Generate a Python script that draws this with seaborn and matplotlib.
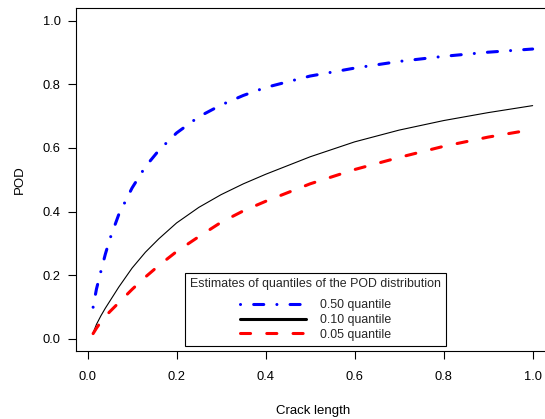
import matplotlib.pyplot as plt
import pandas as pd
import seaborn as sns
from matplotlib.lines import Line2D

sns.set_style("ticks")
plt.rcParams["font.family"] = ["Liberation Sans", "DejaVu Sans"]

# values
crack = [0.0125, 0.02, 0.03, 0.04, 0.05, 0.07, 0.1, 0.13, 0.16, 0.2, 0.25,
         0.3, 0.35, 0.4, 0.5, 0.6, 0.7, 0.8, 0.9, 1.0]
q50 = [0.099, 0.156, 0.212, 0.266, 0.313, 0.390, 0.474, 0.541, 0.592, 0.647, 0.698,
       0.735, 0.765, 0.790, 0.826, 0.851, 0.872, 0.888, 0.901, 0.911]
q10 = [0.018, 0.045, 0.072, 0.096, 0.118, 0.162, 0.222, 0.272, 0.314, 0.364, 0.413,
       0.453, 0.487, 0.517, 0.572, 0.619, 0.656, 0.686, 0.711, 0.733]
q05 = [0.016, 0.033, 0.053, 0.070, 0.085, 0.113, 0.155, 0.194, 0.230, 0.274, 0.321,
       0.366, 0.402, 0.432, 0.487, 0.532, 0.570, 0.605, 0.634, 0.658]
labels = ["0.50 quantile", "0.10 quantile", "0.05 quantile"]

df = pd.DataFrame({"x": crack, "q50": q50, "q10": q10, "q05": q05})

fig = plt.figure(figsize=(5.45, 4.19), dpi=100)
ax = fig.add_axes([0.1394, 0.1613, 0.8706, 0.8196])

thick = 2.2
dotdash = (0, (0.01, 4.3, 3.3, 4.3))
dashed = (0, (3.3, 5.3))

sns.lineplot(data=df, x="x", y="q50", ax=ax, color="#0000ff", lw=thick,
             linestyle=dotdash, dash_capstyle="round")
sns.lineplot(data=df, x="x", y="q10", ax=ax, color="black", lw=0.8)
sns.lineplot(data=df, x="x", y="q05", ax=ax, color="#ff0000", lw=thick,
             linestyle=dashed, dash_capstyle="round")

ax.set_xlim(-0.026, 1.04)
ax.set_ylim(-0.04, 1.04)
ax.set_xticks([0, 0.2, 0.4, 0.6, 0.8, 1.0])
ax.set_yticks([0, 0.2, 0.4, 0.6, 0.8, 1.0])
ax.set_xticklabels(["0.0", "0.2", "0.4", "0.6", "0.8", "1.0"])
ax.set_yticklabels(["0.0", "0.2", "0.4", "0.6", "0.8", "1.0"])
ax.tick_params(axis="both", direction="out", length=6, width=0.8,
               color="black", labelsize=9.3, labelcolor="black")
ax.tick_params(axis="x", pad=8)
ax.tick_params(axis="y", pad=5)
for s in ["left", "top", "bottom"]:
    ax.spines[s].set_visible(True)
    ax.spines[s].set_color("black")
    ax.spines[s].set_linewidth(0.8)
ax.spines["right"].set_visible(False)

ax.set_xlabel("Crack length", fontsize=9.5, labelpad=16, color="black")
ax.set_ylabel("POD", fontsize=9.5, labelpad=12, color="black")

handles = [
    Line2D([], [], color="#0000ff", lw=thick, linestyle=dotdash, dash_capstyle="round"),
    Line2D([], [], color="black", lw=thick),
    Line2D([], [], color="#ff0000", lw=thick, linestyle=dashed, dash_capstyle="round"),
]
leg = ax.legend(handles, labels, title="Estimates of quantiles of the POD distribution",
                loc="lower left", bbox_to_anchor=(185 / 545, (419 - 346) / 419),
                bbox_transform=fig.transFigure, borderaxespad=0, fancybox=False,
                framealpha=1, edgecolor="black", fontsize=8.9, title_fontsize=8.9,
                handlelength=5.3, handletextpad=1.1, labelspacing=0.22,
                borderpad=0.42)
leg._legend_box.sep = 6.5
leg.get_frame().set_linewidth(0.8)

fig.savefig("out.png", dpi=100)
